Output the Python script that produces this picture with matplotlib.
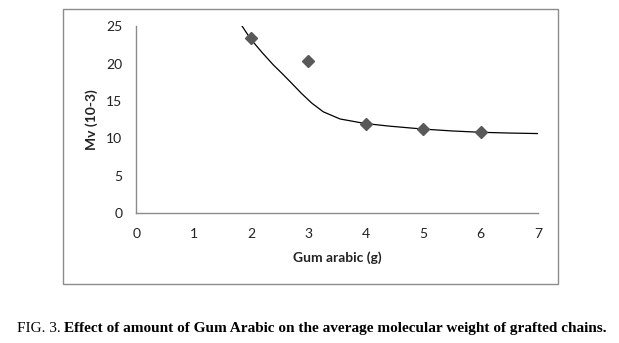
import matplotlib

matplotlib.use("Agg")
import matplotlib.pyplot as plt
from matplotlib.patches import Rectangle

# measured points (Gum arabic in g, Mv x10^-3)
gum_g = [2, 3, 4, 5, 6]
mv = [23.4, 20.3, 11.9, 11.2, 10.8]

# smoothed trend curve
curve_x = [1.80, 1.99, 2.20, 2.39, 2.55, 2.71, 2.88, 3.06, 3.26, 3.55, 3.98, 4.40, 4.77, 5.00, 5.50, 6.00, 6.50, 7.00]
curve_y = [25.5, 23.3, 21.4, 19.8, 18.6, 17.35, 16.0, 14.7, 13.55, 12.6, 12.0, 11.65, 11.4, 11.25, 11.0, 10.82, 10.72, 10.65]

x_ticks = [0, 1, 2, 3, 4, 5, 6, 7]
y_ticks = [0, 5, 10, 15, 20, 25]

GRAY = "#8c8c8c"
TEXT = "#222222"
TICK_FONT = "Lato"

fig = plt.figure(figsize=(6.19, 3.43), dpi=100)
ax = fig.add_axes([0.2202, 0.378, 0.6489, 0.546])

ax.plot(curve_x, curve_y, color="black", lw=0.9, zorder=2)
ax.plot(gum_g, mv, linestyle="none", marker="D", ms=6.5, color="#595959", zorder=3)

ax.set_xlim(0, 7)
ax.set_ylim(0, 25)
ax.set_xticks(x_ticks)
ax.set_yticks(y_ticks)
ax.tick_params(length=0, labelsize=10, labelcolor=TEXT)
ax.tick_params(axis="x", pad=10.5)
ax.tick_params(axis="y", pad=10)
for lab in ax.get_xticklabels() + ax.get_yticklabels():
    lab.set_family(TICK_FONT)
for side in ["top", "right"]:
    ax.spines[side].set_visible(False)
for side in ["left", "bottom"]:
    ax.spines[side].set_color(GRAY)
    ax.spines[side].set_linewidth(1.0)

ax.set_xlabel("Gum arabic (g)", family=TICK_FONT, fontweight="bold", fontsize=10, labelpad=8, color=TEXT)
ax.set_ylabel("Mv (10-3)", family=TICK_FONT, fontweight="bold", fontsize=10, labelpad=6, color=TEXT)

# chart frame around the whole plot area
fig.add_artist(Rectangle((0.1018, 0.1711), 0.7997, 0.8017, transform=fig.transFigure,
                         fill=False, edgecolor=GRAY, lw=1.0))

# caption: "FIG. 3." in regular, rest in bold
cap1 = fig.text(0.027, 0.032, "FIG. 3. ", family="Liberation Serif", fontsize=11, va="baseline")
ax.annotate("Effect of amount of Gum Arabic on the average molecular weight of grafted chains.",
            xy=(1, 0), xycoords=cap1, va="bottom", ha="left", family="Liberation Serif",
            fontsize=11, fontweight="bold", annotation_clip=False)

fig.savefig("out.png", dpi=100)
